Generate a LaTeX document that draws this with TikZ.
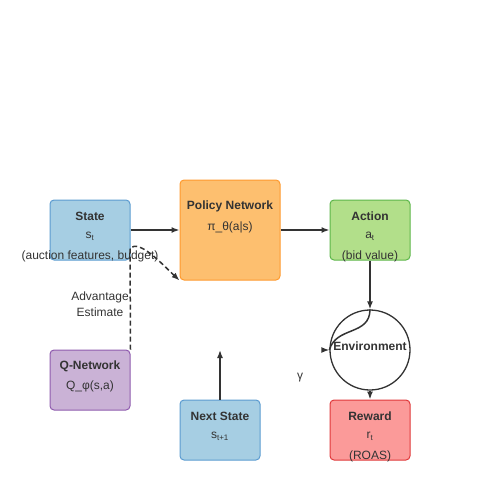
\documentclass[tikz,border=0pt]{standalone}
\usepackage{fontspec}
\setmainfont{Liberation Sans}
\usetikzlibrary{arrows.meta}
\definecolor{ink}{HTML}{333333}
\definecolor{stateFill}{HTML}{A6CEE3}
\definecolor{stateLine}{HTML}{5B9BD0}
\definecolor{policyFill}{HTML}{FDBF6F}
\definecolor{policyLine}{HTML}{FF9A2E}
\definecolor{actionFill}{HTML}{B2DF8A}
\definecolor{actionLine}{HTML}{5DB64A}
\definecolor{rewardFill}{HTML}{FB9A99}
\definecolor{rewardLine}{HTML}{E0393B}
\definecolor{qnetFill}{HTML}{CAB2D6}
\definecolor{qnetLine}{HTML}{8F5BAE}
\tikzset{
	box/.style={draw, rounded corners=4pt, line width=1pt, minimum width=80pt, minimum height=60pt, inner sep=0pt},
	title/.style={font=\bfseries\fontsize{12}{14}\selectfont, text=ink, inner sep=0pt, yshift=-1.5pt},
	txt/.style={font=\fontsize{12}{14}\selectfont, text=ink, inner sep=0pt, yshift=-1.5pt},
	arr/.style={-{Latex[length=8pt,width=6pt]}, draw=ink, line width=1.5pt},
	dasharr/.style={arr, dash pattern=on 5pt off 3pt}
}

\begin{document}
\begin{tikzpicture}[x=1pt, y=-1pt]
		%%%%% START %%%%%
		\useasboundingbox (0, 0) rectangle (500, 500);
		
		\node[box, fill=stateFill, draw=stateLine] (state) at (90, 230) {};
		\node[box, fill=policyFill, draw=policyLine, minimum width=100pt, minimum height=100pt] (policy) at (230, 230) {};
		\node[box, fill=actionFill, draw=actionLine] (action) at (370, 230) {};
		\node[box, fill=rewardFill, draw=rewardLine] (reward) at (370, 430) {};
		\node[box, fill=stateFill, draw=stateLine] (next) at (220, 430) {};
		\node[box, fill=qnetFill, draw=qnetLine] (qnet) at (90, 380) {};
		\node[circle, draw=ink, line width=1.3pt, minimum size=80pt, inner sep=0pt] (env) at (370, 350) {};
		
		\node[title] (envA) at (370, 344.5) {Environment};
		
		\node[title] (stateA) at (90, 215) {State};
		\node[txt] (stateB) at (90, 235) {s\textsubscript{t}};
		\node[txt] (stateC) at (90, 255) {(auction features, budget)};
		
		\node[title] (policyA) at (230, 205) {Policy Network};
		\node[txt] (policyB) at (230, 226) {π\_θ(a|s)};
		
		\node[title] (actionA) at (370, 215) {Action};
		\node[txt] (actionB) at (370, 235) {a\textsubscript{t}};
		\node[txt] (actionC) at (370, 255) {(bid value)};
		
		\node[title] (rewardA) at (370, 415) {Reward};
		\node[txt] (rewardB) at (370, 435) {r\textsubscript{t}};
		\node[txt] (rewardC) at (370, 455) {(ROAS)};
		
		\node[title] (nextA) at (220, 415) {Next State};
		\node[txt] (nextB) at (220, 435) {s\textsubscript{t+1}};
		
		\node[title] (qnetA) at (90, 365) {Q-Network};
		\node[txt] (qnetB) at (90, 385) {Q\_φ(s,a)};
		
		\node[txt, align=center] (adv) at (100, 303) {Advantage\\[2pt]Estimate};
		\node[txt] (gamma) at (300, 376) {γ};
		
		\coordinate (nextTop) at (220, 350);
		\coordinate (advTurn) at (130, 248);
		\coordinate (envIn) at (322, 350);
		
		\draw[arr] (state.east) -- (policy.west |- state.east);
		\draw[arr] (policy.east |- action.west) -- (action.west);
		\draw[arr] (action.south) -- (env.north);
		\draw[arr] (env.south) -- (reward.north);
		\draw[arr] (next.north) -- (nextTop);
		
		\draw[draw=ink, line width=1.5pt] (env.north) .. controls (370, 336) and (336, 326) .. (env.west);
		\draw[arr] (envIn) -- (env.west);
		
		\draw[dasharr] (qnet.north east) -- (advTurn) .. controls (140, 240) and (160, 262) .. (policy.south west);
		
		%%%%% END %%%%%
	\end{tikzpicture}
\end{document}
